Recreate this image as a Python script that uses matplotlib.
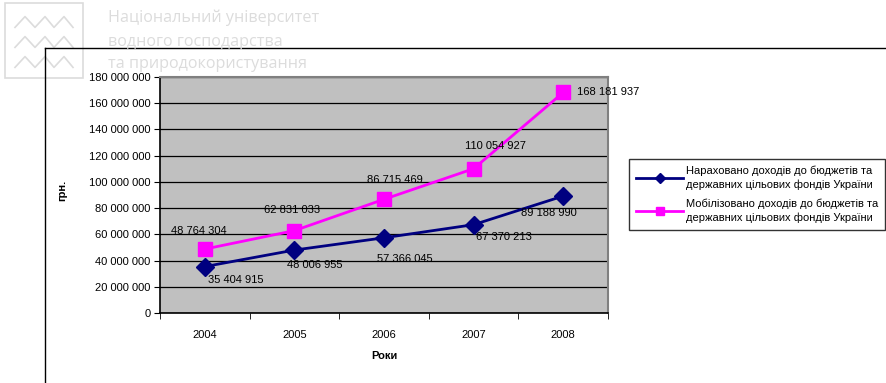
import numpy as np
import matplotlib.pyplot as plt
from matplotlib.lines import Line2D
from matplotlib.ticker import FuncFormatter, MultipleLocator, FixedLocator

plt.rcParams['font.family'] = ['Liberation Sans', 'DejaVu Sans']

# Data: budget revenues, UAH
years = ['2004', '2005', '2006', '2007', '2008']
accrued = [35404915, 48006955, 57366045, 67370213, 89188990]
mobilized = [48764304, 62831033, 86715469, 110054927, 168181937]

accrued_name = 'Нараховано доходів до бюджетів та\nдержавних цільових фондів України'
mobilized_name = 'Мобілізовано доходів до бюджетів та\nдержавних цільових фондів України'

# label offsets in points (x, y) for each data label
accrued_off = [(22, -10), (15, -11), (15, -15), (22, -9), (-10, -12)]
mobilized_off = [(-4, 13), (-2, 15), (8, 14), (16, 16), (10, 0)]


def fmt(v, pos=None):
    return '{:,}'.format(int(v)).replace(',', ' ')


fig = plt.figure(figsize=(8.86, 3.83), dpi=100)

# watermark logo + university name
wm = '#dcdcdc'
fig.add_artist(plt.Rectangle((5 / 886, 1 - 78 / 383), 78 / 886, 75 / 383,
                             transform=fig.transFigure, fill=False, ec=wm, lw=1.2))
for yy in [22, 42, 62]:
    zx = np.array([15, 25, 35, 45, 54, 64, 73]) / 886
    zy = 1 - (yy + np.array([6, -6, 6, -6, 6, -6, 6]) * 0.9) / 383
    fig.add_artist(Line2D(zx, zy, color=wm, lw=1.2, transform=fig.transFigure))
for txt, yy in [('Національний університет', 18), ('водного господарства', 42),
                ('та природокористування', 64)]:
    fig.text(108 / 886, 1 - yy / 383, txt, color=wm, fontsize=11.6,
             family='Open Sans', va='center', ha='left')

# chart frame (runs off the right and bottom edges)
fig.add_artist(Line2D([45 / 886, 1.0], [1 - 48 / 383, 1 - 48 / 383],
                      color='black', lw=1, transform=fig.transFigure))
fig.add_artist(Line2D([45 / 886, 45 / 886], [0.0, 1 - 48 / 383],
                      color='black', lw=1, transform=fig.transFigure))

ax = fig.add_axes([160 / 886, 1 - 313 / 383, 448 / 886, 236 / 383])
ax.set_facecolor('#c0c0c0')
x = np.arange(len(years))

l1, = ax.plot(x, accrued, color='#000080', lw=2, marker='D', markersize=9,
              zorder=3)
l2, = ax.plot(x, mobilized, color='#ff00ff', lw=2, marker='s', markersize=10,
              zorder=3)

for i in range(len(years)):
    ax.annotate(fmt(accrued[i]), (x[i], accrued[i]), xytext=accrued_off[i],
                textcoords='offset points', ha='center', va='center',
                fontsize=8, zorder=4)
    ha = 'left' if i == len(years) - 1 else 'center'
    ax.annotate(fmt(mobilized[i]), (x[i], mobilized[i]), xytext=mobilized_off[i],
                textcoords='offset points', ha=ha, va='center',
                fontsize=8, zorder=4)

ax.set_xlim(-0.5, 4.5)
ax.set_ylim(0, 180000000)
ax.yaxis.set_major_locator(MultipleLocator(20000000))
ax.yaxis.set_major_formatter(FuncFormatter(fmt))
ax.grid(axis='y', color='black', lw=0.9)
ax.set_axisbelow(True)

ax.set_xticks(x)
ax.set_xticklabels(years)
ax.xaxis.set_minor_locator(FixedLocator(np.arange(-0.5, 5, 1)))
ax.tick_params(axis='x', which='major', length=0, pad=12, labelsize=8)
ax.tick_params(axis='x', which='minor', length=4, direction='out')
ax.tick_params(axis='y', length=4, direction='out', labelsize=8, pad=3)

for s in ['top', 'right']:
    ax.spines[s].set_color('#808080')
    ax.spines[s].set_linewidth(1.5)
for s in ['left', 'bottom']:
    ax.spines[s].set_color('black')
    ax.spines[s].set_linewidth(1.2)

ax.set_xlabel('Роки', fontsize=8, fontweight='bold', labelpad=8)
fig.text(62 / 886, 1 - 190 / 383, 'грн.', rotation=90, fontsize=8,
         fontweight='bold', ha='center', va='center')

leg = fig.legend([l1, l2], [accrued_name, mobilized_name], loc='upper left',
                 bbox_to_anchor=(629 / 886, 1 - 159 / 383), fontsize=8,
                 frameon=True, fancybox=False, edgecolor='black',
                 handlelength=4.3, handletextpad=0.2, labelspacing=0.7,
                 borderpad=0.6, borderaxespad=0, markerscale=0.6)
leg.get_frame().set_linewidth(1)
for t in leg.get_texts():
    t.set_linespacing(1.45)

fig.savefig('out.png', dpi=100)
